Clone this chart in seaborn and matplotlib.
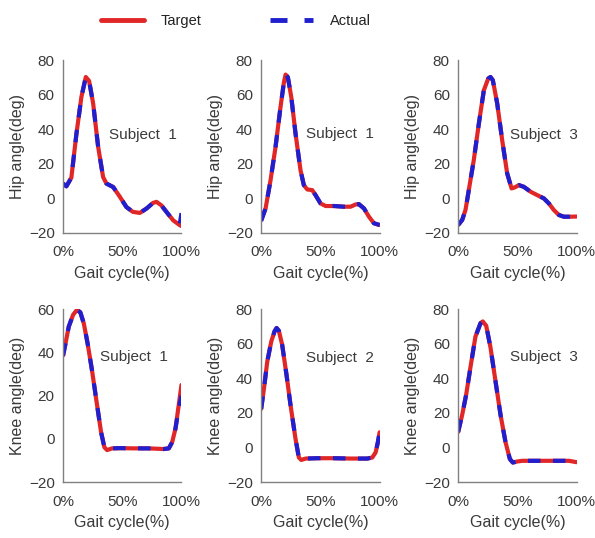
import pandas as pd
import matplotlib.pyplot as plt
import seaborn as sns
from matplotlib.lines import Line2D


# =========================
# Data (gait cycle % and joint angle in deg)
# =========================
hip_s1_x = [0, 2.8, 7, 11.3, 15.5, 19.2, 22, 25.4, 29.6, 33.8, 36.6, 42.3, 47.9,
            53.5, 59, 64.8, 70.4, 76, 78.9, 83, 87.3, 93, 98.6, 100]
hip_s1_target = [8.6, 7, 12, 37.5, 58.8, 70.3, 68, 55, 30, 12.4, 8.6, 6.6, 1,
                 -5, -7.8, -8.4, -5.9, -2.6, -2, -4, -7.8, -12.7, -15.5, -16]
hip_s1_actual = [8.6, 7, 12, 37.5, 58.8, 70.3, 68, 55, 30, 12.4, 8.6, 6.6, 1,
                 -5, -7.8, -8.4, -5.9, -2.6, -2, -4, -7.8, -12.7, -14.5, -8.5]

hip_s1b_x = [0, 3.7, 7.9, 12.1, 16.3, 19.2, 20.6, 22.5, 25.4, 29, 33.2, 36, 38.9,
             43.1, 45.9, 50.1, 54.4, 61.4, 69.9, 75.5, 79.7, 82.5, 86.8, 91, 95.2, 100]
hip_s1b_target = [-12.5, -5.8, 10.6, 29.8, 52.9, 67.3, 71.7, 70.2, 58.7, 37.5, 16.3,
                  7.7, 5.2, 4.8, 1.9, -2.9, -4.4, -4.4, -4.8, -4.8, -3.5, -3.3, -5.8,
                  -10.6, -14.4, -15.4]
hip_s1b_actual = [-13, -5.8, 10.6, 29.8, 52.9, 67.3, 71.7, 70.2, 58.7, 37.5, 16.3,
                  7.7, 5.2, 4.8, 1.9, -2.9, -4.4, -4.4, -4.8, -4.8, -3.5, -3.3, -5.8,
                  -10.6, -14.4, -15.4]

hip_s3_x = [0, 3.4, 6.2, 9, 13.2, 17.5, 21.7, 25.4, 27.3, 29.3, 33, 37.2, 41.4,
            45.1, 47.9, 51.3, 55.5, 61.1, 66.8, 72.4, 76.6, 80.8, 85.1, 89.3, 93.5, 100]
hip_s3_target = [-15.4, -12.5, -6.7, 4.8, 22.2, 43.4, 62.6, 69.4, 70.3, 68.4, 54.9,
                 33.7, 14.5, 5.8, 6.4, 7.7, 6.7, 3.9, 1.9, 0, -2.9, -6.7, -9.6,
                 -10.6, -10.6, -10.5]
hip_s3_actual = [-15.4, -12.5, -6.7, 4.8, 22.2, 43.4, 62.6, 69.4, 70.3, 68.4, 54.9,
                 33.7, 14.5, 5.8, 6.4, 7.7, 6.7, 3.9, 1.9, 0, -2.9, -6.7, -9.6,
                 -10.6, -10.6, -10]

knee_s1_x = [0, 2, 4.8, 8.5, 11.8, 14.6, 17.5, 20.8, 24.5, 28.7, 32.1, 34.9, 37.2,
             41.4, 48.5, 60, 72, 85, 89.3, 92.1, 94.9, 97.7, 100]
knee_s1_target = [38.6, 44, 52, 57.5, 59.8, 58.6, 53.5, 44, 31.5, 15.7, 3.1, -3.9,
                  -5.2, -4.4, -4.3, -4.4, -4.4, -4.7, -4.4, -1.6, 4.7, 15.7, 25]
knee_s1_actual = [38.6, 44, 52, 57.5, 59.8, 58.6, 53.5, 44, 31.5, 15.7, 3.1, -3.9,
                  -5.2, -4.4, -4.3, -4.4, -4.4, -4.7, -4.4, -1.6, 4.7, 14, 20]

knee_s2_x = [0, 2.3, 5.1, 8.5, 11.3, 13, 14.9, 17.7, 21.4, 24.8, 29, 31.8, 33.8,
             37.5, 47.3, 61, 75.5, 89.6, 93.8, 96.6, 98.6, 100]
knee_s2_target = [22.4, 34, 49.7, 61.4, 67.3, 69.2, 67.6, 59.5, 41.9, 24.4, 4.9,
                  -5.8, -7.2, -6.4, -6.2, -6.2, -6.4, -6.4, -5.8, -2.9, 2.9, 8.8]
knee_s2_actual = [22.4, 34, 49.7, 61.4, 67.3, 69.2, 67.6, 59.5, 41.9, 24.4, 4.9,
                  -5.8, -7.2, -6.4, -6.2, -6.2, -6.4, -6.4, -5.8, -2.9, 3.5, 8.8]

knee_s3_x = [0, 3.4, 6.8, 10.4, 14.6, 18.9, 20.8, 23.7, 27.3, 31.5, 35.8, 40,
             43.7, 46.2, 49.9, 54.1, 65, 80, 93.5, 100]
knee_s3_target = [9, 18.9, 30.7, 46.5, 64.2, 72, 73, 70.5, 58, 38.6, 18.9, 3.1,
                  -6.7, -8.7, -8.1, -7.7, -7.7, -7.7, -7.7, -8.5]
knee_s3_actual = [9, 18.9, 30.7, 46.5, 64.2, 72, 73, 70.5, 58, 38.6, 18.9, 3.1,
                  -6.7, -8.7, -8.1, -7.7, -7.7, -7.7, -7.7, -6]

panels = [
    (hip_s1_x, hip_s1_target, hip_s1_actual, "Hip angle(deg)", "Subject  1", (39, 37), (-20, 80)),
    (hip_s1b_x, hip_s1b_target, hip_s1b_actual, "Hip angle(deg)", "Subject  1", (38, 37.5), (-20, 80)),
    (hip_s3_x, hip_s3_target, hip_s3_actual, "Hip angle(deg)", "Subject  3", (44, 36.6), (-20, 80)),
    (knee_s1_x, knee_s1_target, knee_s1_actual, "Knee angle(deg)", "Subject  1", (31.5, 37.8), (-20, 60)),
    (knee_s2_x, knee_s2_target, knee_s2_actual, "Knee angle(deg)", "Subject  2", (38, 51.7), (-20, 80)),
    (knee_s3_x, knee_s3_target, knee_s3_actual, "Knee angle(deg)", "Subject  3", (44, 52.4), (-20, 80)),
]

RED = "#e02626"
BLUE = "#1f1fd0"
TEXT = "#3a3a3a"
SPINE = "#808080"

# =========================
# Figure
# =========================
sns.set_style("white")
plt.rcParams["font.family"] = ["Liberation Sans", "DejaVu Sans"]

fig = plt.figure(figsize=(5.95, 5.38), dpi=100)

lefts = [0.106, 0.439, 0.770]
bottoms = [0.567, 0.104]
width, height = 0.199, 0.321

for i, (x, target, actual, ylabel, name, txt, ylim) in enumerate(panels):
    ax = fig.add_axes([lefts[i % 3], bottoms[i // 3], width, height])

    sns.lineplot(x=x, y=target, ax=ax, color=RED, linewidth=3.0, sort=False)
    sns.lineplot(x=x, y=actual, ax=ax, color=BLUE, linewidth=3.0, sort=False,
                 linestyle=(0, (3.0, 3.0)))

    ax.set_xlim(0, 100)
    ax.set_ylim(*ylim)
    ax.set_xticks([0, 50, 100])
    ax.set_xticklabels(["0%", "50%", "100%"])
    ax.set_yticks(range(ylim[0], ylim[1] + 1, 20))

    ax.set_xlabel("Gait cycle(%)", fontsize=11.5, color=TEXT, labelpad=5)
    ax.set_ylabel(ylabel, fontsize=11.5, color=TEXT, labelpad=3)
    ax.text(txt[0], txt[1], name, fontsize=11, color=TEXT, ha="left", va="center")

    ax.tick_params(axis="both", direction="in", length=3, width=0.8,
                   colors=SPINE, labelcolor=TEXT, labelsize=11)
    ax.tick_params(axis="x", pad=9)
    ax.tick_params(axis="y", pad=6)

    sns.despine(ax=ax)
    for side in ["left", "bottom"]:
        ax.spines[side].set_color(SPINE)
        ax.spines[side].set_linewidth(1.0)

handles = [
    Line2D([], [], color=RED, linewidth=3.5),
    Line2D([], [], color=BLUE, linewidth=3.5, linestyle=(0, (3.5, 3.5))),
]
fig.legend(handles, ["Target", "Actual"], loc="upper center",
           bbox_to_anchor=(0.397, 0.998), ncol=2, frameon=False,
           fontsize=10.5, handlelength=2.9, handletextpad=1.2,
           columnspacing=4.7, labelcolor="#222222")

plt.savefig("out.png", dpi=100)
plt.close()
